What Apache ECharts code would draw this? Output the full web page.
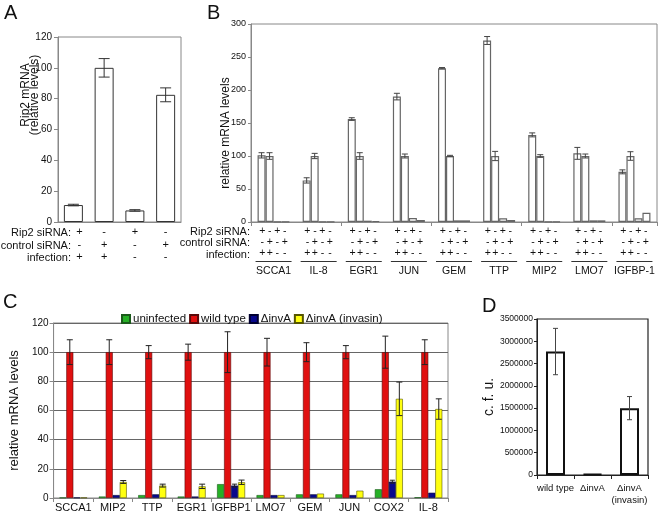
<!DOCTYPE html>
<html><head><meta charset="utf-8">
<script src="https://cdn.jsdelivr.net/npm/echarts@6/dist/echarts.min.js"></script>
<style>html,body{margin:0;padding:0;background:#fff}#c{width:661px;height:514px}</style>
</head><body><div id="c"></div>
<script>
// ---------- Panel A ----------
const aCats = ['c1', 'c2', 'c3', 'c4'];
const aValues = [11, 100, 7.5, 82.5];
const aErrors = [0.5, 6, 0.5, 4.5];
const aRip2 = ['+', '-', '+', '-'];
const aControl = ['-', '+', '-', '+'];
const aInfection = ['+', '+', '-', '-'];

// ---------- Panel B ----------
const bGenes = ['SCCA1', 'IL-8', 'EGR1', 'JUN', 'GEM', 'TTP', 'MIP2', 'LMO7', 'IGFBP-1'];
const bRip2Inf = [101, 63, 156, 190, 233, 275, 132, 104, 76];
const bRip2InfErr = [4, 4, 2, 5, 1, 6, 3, 9, 3];
const bCtrlInf = [100, 100, 100, 100, 100, 100, 100, 100, 100];
const bCtrlInfErr = [5, 4, 5, 3, 1, 7, 2, 3, 6.5];
const bRip2Un = [0.5, 0.5, 2, 6, 2.5, 5.5, 0.5, 2.5, 5.5];
const bCtrlUn = [0.5, 0.5, 1.5, 3, 2.5, 3, 0.5, 2.5, 14];
const bSignRip2 = ['+', '-', '+', '-'];
const bSignControl = ['-', '+', '-', '+'];
const bSignInfection = ['+', '+', '-', '-'];

// ---------- Panel C ----------
const cGenes = ['SCCA1', 'MIP2', 'TTP', 'EGR1', 'IGFBP1', 'LMO7', 'GEM', 'JUN', 'COX2', 'IL-8'];
const cSeriesNames = ['uninfected', 'wild type', '\u0394invA', '\u0394invA (invasin)'];
const cUninfected = [0.3, 1, 2, 1, 9.5, 2, 2.5, 2.5, 6, 0.5];
const cWildType = [100, 100, 100, 100, 100, 100, 100, 100, 100, 100];
const cWildTypeErr = [8.5, 8.5, 4.5, 5.5, 14, 9.5, 6.5, 4.5, 11, 8.5];
const cInvA = [0.3, 2, 2.5, 1, 8.5, 2, 2.5, 2, 11.2, 3.6];
const cInvAErr = [0, 0, 0, 0, 1, 0, 0, 0, 1, 0];
const cInvasin = [0.3, 11, 8.5, 8, 10.8, 2, 3, 5, 68, 61];
const cInvasinErr = [0, 1, 1, 1.5, 1.5, 0, 0, 0, 11.5, 7];

// ---------- Panel D ----------
const dCats = ['wild type', '\u0394invA', '\u0394invA\n(invasin)'];
const dValues = [2770000, 20000, 1500000];
const dErrors = [520000, 0, 260000];

const FONT = 'Liberation Sans, Arial, sans-serif';

function errSeries(name, xi, yi, vals, errs, opts) {
  const data = vals.map((v, i) => [i, v, errs[i], opts.k]);
  return {
    type: 'custom', name: name, xAxisIndex: xi, yAxisIndex: yi, z: 10, silent: true,
    data: data,
    renderItem: function (params, api) {
      const i = api.value(0), v = api.value(1), e = api.value(2), k = api.value(3);
      if (!e) return null;
      const base = api.coord([i, v]);
      const x = base[0] + (k - opts.mid) * opts.bw;
      const top = api.coord([i, v + e])[1];
      const bot = api.coord([i, v - e])[1];
      const h = opts.cap / 2;
      const st = { stroke: opts.color, lineWidth: opts.lw || 1 };
      return { type: 'group', children: [
        { type: 'line', shape: { x1: x, y1: top, x2: x, y2: bot }, style: st },
        { type: 'line', shape: { x1: x - h, y1: top, x2: x + h, y2: top }, style: st },
        { type: 'line', shape: { x1: x - h, y1: bot, x2: x + h, y2: bot }, style: st }
      ]};
    }
  };
}

function signAxis(grid, data, offset, fontSize, rich, firstPad) {
  const ax = {
    type: 'category', gridIndex: grid, data: data, position: 'bottom', offset: offset,
    axisLine: { show: false }, axisTick: { show: false },
    axisLabel: { margin: 0, fontSize: fontSize, color: '#111', fontFamily: FONT, interval: 0 }
  };
  if (rich) {
    ax.axisLabel.formatter = function (v) { return rich.map(s => '{s|' + s + '}').join(''); };
    ax.axisLabel.rich = { s: { width: 7.5, align: 'center', fontSize: fontSize, color: '#111', fontFamily: FONT } };
  } else if (firstPad) {
    ax.axisLabel.formatter = function (v, idx) { return idx === 0 ? '{p|' + v + '}' : v; };
    ax.axisLabel.rich = { p: { padding: [0, 0, 0, firstPad], fontSize: fontSize, color: '#111', fontFamily: FONT } };
  }
  return ax;
}

const axisGray = { lineStyle: { color: '#888' } };

const option = {
  animation: false,
  backgroundColor: '#fff',
  textStyle: { fontFamily: FONT },
  grid: [
    { left: 58, top: 37, width: 123, height: 185, show: true, borderColor: '#888', borderWidth: 1 },
    { left: 251, top: 24, width: 406, height: 198, show: true, borderColor: '#888', borderWidth: 1 },
    { left: 42, top: 323, width: 406, height: 175, show: true, borderColor: '#888', borderWidth: 1 },
    { left: 537, top: 319, width: 111, height: 156, show: true, borderColor: '#222', borderWidth: 1.2 }
  ],
  legend: {
    left: 116, top: 308, itemWidth: 8, itemHeight: 8, itemGap: 3,
    data: cSeriesNames,
    textStyle: { fontSize: 11.5, color: '#111', fontFamily: FONT, padding: [0, 0, 0, -2] },
    icon: 'rect'
  },
  xAxis: [
    { type: 'category', gridIndex: 0, data: aCats, axisLine: axisGray,
      axisTick: { show: false }, axisLabel: { show: false } },
    { type: 'category', gridIndex: 1, data: bGenes, axisLine: axisGray,
      axisTick: { show: true, length: 4, inside: false, lineStyle: { color: '#888' } }, axisLabel: { show: false } },
    { type: 'category', gridIndex: 2, data: cGenes, axisLine: axisGray,
      axisTick: { show: true, length: 4, lineStyle: { color: '#888' } },
      axisLabel: { fontSize: 11, color: '#111', margin: 4, interval: 0 } },
    { type: 'category', gridIndex: 3, data: dCats, axisLine: { lineStyle: { color: '#222' } },
      axisTick: { show: true, length: 4, lineStyle: { color: '#222' } },
      axisLabel: { fontSize: 9.5, color: '#111', margin: 7, interval: 0, lineHeight: 12 } },
    signAxis(0, aRip2, 4.5, 11, null, 12),
    signAxis(0, aControl, 17.5, 11, null, 12),
    signAxis(0, aInfection, 29, 11, null, 12),
    signAxis(1, bGenes, 3.5, 10.5, bSignRip2),
    signAxis(1, bGenes, 15, 10.5, bSignControl),
    signAxis(1, bGenes, 26, 10.5, bSignInfection),
    signAxis(1, bGenes, 44, 10.5)
  ],
  yAxis: [
    { type: 'value', gridIndex: 0, min: 0, max: 120, interval: 20,
      axisLine: { show: true, lineStyle: { color: '#888' } },
      axisTick: { show: true, length: 4, lineStyle: { color: '#888' } },
      axisLabel: { fontSize: 10, color: '#111', margin: 6 }, splitLine: { show: false } },
    { type: 'value', gridIndex: 1, min: 0, max: 300, interval: 50,
      axisLine: { show: true, lineStyle: { color: '#888' } },
      axisTick: { show: true, length: 3, lineStyle: { color: '#888' } },
      axisLabel: { fontSize: 9, color: '#111', margin: 5 }, splitLine: { show: false } },
    { type: 'value', gridIndex: 2, min: 0, max: 120, interval: 20,
      name: 'relative mRNA levels', nameLocation: 'middle', nameGap: 24,
      nameTextStyle: { fontSize: 13, color: '#111' },
      axisLine: { show: true, lineStyle: { color: '#888' } },
      axisTick: { show: true, length: 4, lineStyle: { color: '#888' } },
      axisLabel: { fontSize: 10, color: '#111', margin: 5 },
      splitLine: { show: true, lineStyle: { color: '#666', width: 1 } } },
    { type: 'value', gridIndex: 3, min: 0, max: 3500000, interval: 500000,
      name: 'c. f. u.', nameLocation: 'middle', nameGap: 29,
      nameTextStyle: { fontSize: 14, color: '#111' },
      axisLine: { show: true, lineStyle: { color: '#222' } },
      axisTick: { show: true, length: 3, lineStyle: { color: '#222' } },
      axisLabel: { fontSize: 8.5, color: '#111', margin: 4, formatter: function (v) { return String(v); } },
      splitLine: { show: false } }
  ],
  series: [
    { type: 'bar', xAxisIndex: 0, yAxisIndex: 0, data: aValues, barWidth: 19,
      itemStyle: { color: '#fff', borderColor: '#333', borderWidth: 1 } },
    errSeries('aErr', 0, 0, aValues, aErrors, { k: 0, mid: 0, bw: 0, cap: 11, color: '#333' }),
    { type: 'bar', xAxisIndex: 1, yAxisIndex: 1, data: bRip2Inf, barWidth: 8, barGap: '0%',
      itemStyle: { color: '#fff', borderColor: '#666', borderWidth: 1.2 } },
    { type: 'bar', xAxisIndex: 1, yAxisIndex: 1, data: bCtrlInf, barWidth: 8, barGap: '0%',
      itemStyle: { color: '#fff', borderColor: '#666', borderWidth: 1.2 } },
    { type: 'bar', xAxisIndex: 1, yAxisIndex: 1, data: bRip2Un, barWidth: 8, barGap: '0%',
      itemStyle: { color: '#fff', borderColor: '#666', borderWidth: 1.2 } },
    { type: 'bar', xAxisIndex: 1, yAxisIndex: 1, data: bCtrlUn, barWidth: 8, barGap: '0%',
      itemStyle: { color: '#fff', borderColor: '#666', borderWidth: 1.2 } },
    errSeries('bErr0', 1, 1, bRip2Inf, bRip2InfErr, { k: 0, mid: 1.5, bw: 8, cap: 6, color: '#444' }),
    errSeries('bErr1', 1, 1, bCtrlInf, bCtrlInfErr, { k: 1, mid: 1.5, bw: 8, cap: 6, color: '#444' }),
    { name: cSeriesNames[0], type: 'bar', xAxisIndex: 2, yAxisIndex: 2, data: cUninfected, barWidth: 7, barGap: '0%',
      itemStyle: { color: '#26b026', borderColor: '#1a5a1a', borderWidth: 0.6 } },
    { name: cSeriesNames[1], type: 'bar', xAxisIndex: 2, yAxisIndex: 2, data: cWildType, barWidth: 7, barGap: '0%',
      itemStyle: { color: '#e01010', borderColor: '#5a0a0a', borderWidth: 0.6 } },
    { name: cSeriesNames[2], type: 'bar', xAxisIndex: 2, yAxisIndex: 2, data: cInvA, barWidth: 7, barGap: '0%',
      itemStyle: { color: '#08088c', borderColor: '#000030', borderWidth: 0.6 } },
    { name: cSeriesNames[3], type: 'bar', xAxisIndex: 2, yAxisIndex: 2, data: cInvasin, barWidth: 7, barGap: '0%',
      itemStyle: { color: '#ffff10', borderColor: '#555500', borderWidth: 0.6 } },
    errSeries('cErr1', 2, 2, cWildType, cWildTypeErr, { k: 1, mid: 1.5, bw: 7, cap: 6, color: '#222' }),
    errSeries('cErr2', 2, 2, cInvA, cInvAErr, { k: 2, mid: 1.5, bw: 7, cap: 5, color: '#222' }),
    errSeries('cErr3', 2, 2, cInvasin, cInvasinErr, { k: 3, mid: 1.5, bw: 7, cap: 6, color: '#222' }),
    { type: 'bar', xAxisIndex: 3, yAxisIndex: 3, data: dValues, barWidth: 19,
      itemStyle: { color: '#fff', borderColor: '#111', borderWidth: 2 } },
    errSeries('dErr', 3, 3, dValues, dErrors, { k: 0, mid: 0, bw: 0, cap: 5, color: '#444' })
  ]
};

const chart = echarts.init(document.getElementById('c'), null, { renderer: 'canvas' });
chart.setOption(option);

const g = [];
function letter(t, x, y) {
  g.push({ type: 'text', left: x, top: y, style: { text: t, font: '20px ' + FONT, fill: '#111' } });
}
letter('A', 4, 3); letter('B', 207, 3); letter('C', 3, 292); letter('D', 482, 296);

function rowLabel(t, xr, yc) {
  g.push({ type: 'text', x: xr, y: yc, style: { text: t, font: '11px ' + FONT, fill: '#111', align: 'right', verticalAlign: 'middle' } });
}
rowLabel('Rip2 siRNA:', 71, 233); rowLabel('control siRNA:', 71, 245.5); rowLabel('infection:', 71, 257.5);
rowLabel('Rip2 siRNA:', 250, 231.5); rowLabel('control siRNA:', 250, 243); rowLabel('infection:', 250, 254.5);

g.push({ type: 'text', x: 30, y: 95, rotation: Math.PI / 2,
  style: { text: 'Rip2 mRNA\n(relative levels)', font: '12px ' + FONT, fill: '#111', align: 'center', verticalAlign: 'middle', lineHeight: 9.5 } });
g.push({ type: 'text', x: 226, y: 133, rotation: Math.PI / 2,
  style: { text: 'relative mRNA levels', font: '12px ' + FONT, fill: '#111', align: 'center', verticalAlign: 'middle' } });

bGenes.forEach(function (name, i) {
  const cx = chart.convertToPixel({ xAxisIndex: 1 }, i);
  g.push({ type: 'line', shape: { x1: cx - 18, y1: 261.5, x2: cx + 18, y2: 261.5 }, style: { stroke: '#333', lineWidth: 1 } });
});

chart.setOption({ graphic: { elements: g } });
</script>
</body></html>
